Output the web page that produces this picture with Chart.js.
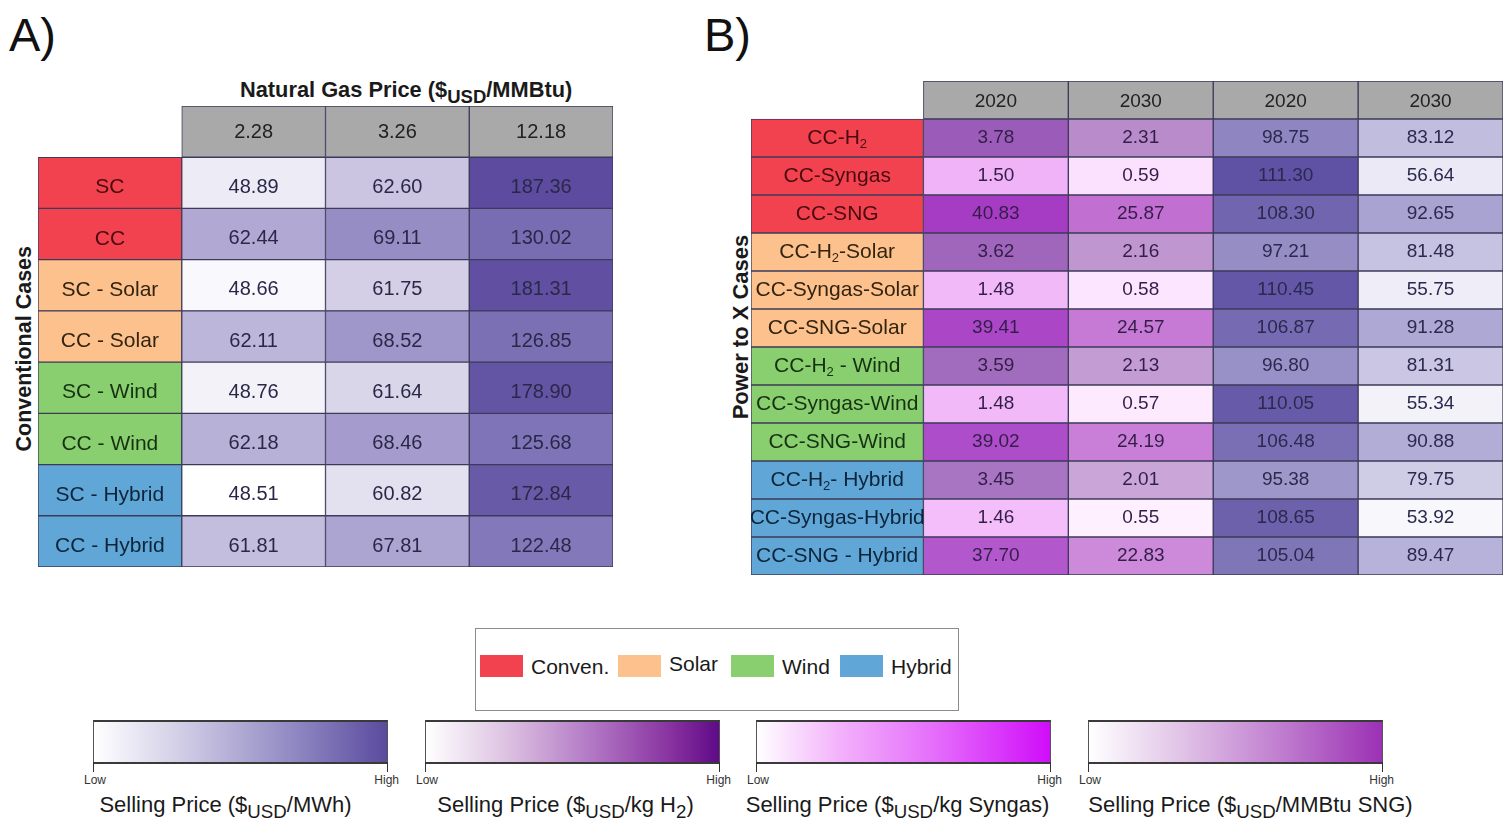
<!DOCTYPE html>
<html>
<head>
<meta charset="utf-8">
<script src="https://cdn.jsdelivr.net/npm/chart.js@4.4.1/dist/chart.umd.min.js"></script>
<style>
  html, body { margin: 0; padding: 0; background: #ffffff; }
  body { width: 1504px; height: 819px; position: relative; overflow: hidden;
         font-family: "Liberation Sans", Arial, sans-serif; color: #1a1a1a; }
  .abs { position: absolute; white-space: nowrap; }
  canvas { position: absolute; }
  .panel { font-size: 47px; line-height: 1; color: #111; }
  .sub { font-size: 0.85em; position: relative; top: 0.32em; }
  .vtitle { font-weight: bold; text-align: center; transform: rotate(-90deg); transform-origin: 50% 50%; line-height: 1; }
  .legend { border: 1px solid #8c8c8c; box-sizing: border-box; }
  .swatch { width: 43px; height: 22px; }
  .legtext { font-size: 21px; line-height: 1; }
  .cbar { box-sizing: border-box; border-top: 2px solid #3a3a3a; border-bottom: 2px solid #3a3a3a;
          border-left: 1px solid #555; border-right: 1px solid #555; }
  .tick { width: 1px; background: #333; }
  .lohi { font-size: 12px; color: #333; line-height: 1; }
  .cbtitle { font-size: 22px; line-height: 1; color: #1a1a1a; }
</style>
</head>
<body>

<div class="abs panel" style="left:9px; top:11px;">A)</div>
<div class="abs panel" style="left:704px; top:11px;">B)</div>

<div class="abs" style="left:240px; top:79px; font-size:21.8px; font-weight:bold; line-height:1;">Natural Gas Price ($<span class="sub">USD</span>/MMBtu)</div>

<div class="abs vtitle" style="left:-125px; top:338px; width:300px; font-size:21.5px;">Conventional Cases</div>
<div class="abs vtitle" style="left:591px; top:316px; width:300px; font-size:22px;">Power to X Cases</div>

<canvas id="tableA" width="575" height="461" style="left:38px; top:106px;"></canvas>
<canvas id="tableB" width="752" height="494" style="left:751px; top:81px;"></canvas>

<div id="legend" class="abs legend" style="left:475px; top:628px; width:484px; height:83px;"></div>
<div id="colorbars"></div>

<script>
// ---- Conventional power cases: levelized selling price ($/MWh) by natural gas price ----
const conventionalCases = ['SC', 'CC', 'SC - Solar', 'CC - Solar', 'SC - Wind', 'CC - Wind', 'SC - Hybrid', 'CC - Hybrid'];
const gasPrices = ['2.28', '3.26', '12.18'];
const priceGas228 = [48.89, 62.44, 48.66, 62.11, 48.76, 62.18, 48.51, 61.81];
const priceGas326 = [62.60, 69.11, 61.75, 68.52, 61.64, 68.46, 60.82, 67.81];
const priceGas1218 = [187.36, 130.02, 181.31, 126.85, 178.90, 125.68, 172.84, 122.48];

// ---- Power-to-X cases: fuel selling price and electricity selling price, 2020 / 2030 ----
const ptxCases = ['CC-H₂', 'CC-Syngas', 'CC-SNG', 'CC-H₂-Solar', 'CC-Syngas-Solar', 'CC-SNG-Solar',
                  'CC-H₂ - Wind', 'CC-Syngas-Wind', 'CC-SNG-Wind', 'CC-H₂- Hybrid', 'CC-Syngas-Hybrid', 'CC-SNG - Hybrid'];
const ptxYears = ['2020', '2030', '2020', '2030'];
const fuelPrice2020 = [3.78, 1.50, 40.83, 3.62, 1.48, 39.41, 3.59, 1.48, 39.02, 3.45, 1.46, 37.70];
const fuelPrice2030 = [2.31, 0.59, 25.87, 2.16, 0.58, 24.57, 2.13, 0.57, 24.19, 2.01, 0.55, 22.83];
const powerPrice2020 = [98.75, 111.30, 108.30, 97.21, 110.45, 106.87, 96.80, 110.05, 106.48, 95.38, 108.65, 105.04];
const powerPrice2030 = [83.12, 56.64, 92.65, 81.48, 55.75, 91.28, 81.31, 55.34, 90.88, 79.75, 53.92, 89.47];

// ---- Legend and colour-bar text ----
const groupNames = ['Conven.', 'Solar', 'Wind', 'Hybrid'];
const colorbarTitles = [
  'Selling Price ($<span class="sub">USD</span>/MWh)',
  'Selling Price ($<span class="sub">USD</span>/kg H<span class="sub">2</span>)',
  'Selling Price ($<span class="sub">USD</span>/kg Syngas)',
  'Selling Price ($<span class="sub">USD</span>/MMBtu SNG)'
];

// ---- Styles ----
const groupFill = { conv: '#f2424f', solar: '#fdc18e', wind: '#89cf70', hybrid: '#60a6d6' };
const groupInk  = { conv: '#4a0b10', solar: '#33240f', wind: '#163210', hybrid: '#0d253b' };
const headerFill = '#a9a9a9';
const gridInk = '#3d3b5a';
const FONT = '"Liberation Sans", Arial, sans-serif';

// colour ramps [low, high] used for each column
const rampA = [['#ffffff', '#b1a9d4'], ['#e3e0ef', '#978dc5'], ['#8378b9', '#5c4b9f']];
const rampFuel = {
  H2:     [['#a775c2', '#9a5cb8'], ['#c9a6d7', '#b98bcb']],
  Syngas: [['#f4befa', '#f0b3f7'], ['#fef0ff', '#fbe1fd']],
  SNG:    [['#b258cc', '#a63cc4'], ['#cd8ada', '#c26fd2']]
};
const rampPower = [['#9e97ca', '#5f52a4'], ['#f8f7fc', '#a9a3d2']];

const cbarGradients = [
  'linear-gradient(to right, #ffffff, #c9c4e1 35%, #9089c3 68%, #5b4b9e)',
  'linear-gradient(to right, #ffffff, #dcc1e1 28%, #b074c3 58%, #87319f 84%, #5f0a88)',
  'linear-gradient(to right, #ffffff, #f3b2fb 28%, #e46afb 62%, #d00df9)',
  'linear-gradient(to right, #ffffff, #e2c6e8 30%, #bd78cd 68%, #9c31b4)'
];
const cbarTitleShift = [-15, -7, -6, 15];

function groupOf(name) {
  if (name.includes('Solar')) return 'solar';
  if (name.includes('Wind')) return 'wind';
  if (name.includes('Hybrid')) return 'hybrid';
  return 'conv';
}
function productOf(name) {
  if (name.includes('H₂')) return 'H2';
  if (name.includes('Syngas')) return 'Syngas';
  return 'SNG';
}

function hexToRgb(h) { const n = parseInt(h.slice(1), 16); return [(n >> 16) & 255, (n >> 8) & 255, n & 255]; }
function mix(a, b, t) {
  const A = hexToRgb(a), B = hexToRgb(b);
  return 'rgb(' + A.map((v, i) => Math.round(v + (B[i] - v) * t)).join(',') + ')';
}
// shade of a value inside its column: half linear position, half rank
function shade(v, values, ramp) {
  const s = [...values].sort((a, b) => a - b);
  const lo = s[0], hi = s[s.length - 1];
  const lin = hi > lo ? (v - lo) / (hi - lo) : 0;
  const rank = s.length > 1 ? s.indexOf(v) / (s.length - 1) : 0;
  return mix(ramp[0], ramp[1], 0.5 * lin + 0.5 * rank);
}

// text with "₂" drawn as a lowered small 2
function drawRich(ctx, text, cx, cy, size, color, hScale) {
  const parts = [];
  for (const ch of text) {
    const sub = ch === '₂';
    const c = sub ? '2' : ch;
    if (parts.length && parts[parts.length - 1].sub === sub) parts[parts.length - 1].t += c;
    else parts.push({ t: c, sub });
  }
  const fontFor = p => (p.sub ? Math.round(size * 0.62) : size) + 'px ' + FONT;
  let total = 0;
  parts.forEach(p => { ctx.font = fontFor(p); p.w = ctx.measureText(p.t).width; total += p.w; });
  ctx.save();
  ctx.translate(cx, cy);
  ctx.scale(hScale, 1);
  ctx.fillStyle = color;
  ctx.textBaseline = 'alphabetic';
  ctx.textAlign = 'left';
  let x = -total / 2;
  const base = size * 0.36;
  parts.forEach(p => {
    ctx.font = fontFor(p);
    ctx.fillText(p.t, x, p.sub ? base + size * 0.2 : base);
    x += p.w;
  });
  ctx.restore();
}

const cellText = {
  id: 'cellText',
  afterDatasetsDraw(chart, args, opts) {
    const ctx = chart.ctx;
    chart.data.datasets.forEach((ds, di) => {
      const meta = chart.getDatasetMeta(di);
      meta.data.forEach((bar, i) => {
        const txt = ds.texts[i];
        if (txt == null) return;
        const p = bar.getProps(['x', 'y', 'base'], true);
        const dy = i === 0 ? opts.headerDy : opts.dy;
        drawRich(ctx, txt, (p.x + p.base) / 2, p.y + dy, ds.textSizes[i], ds.textColors[i], opts.hScale);
      });
    });
  }
};

function barDefaults(extra) {
  return Object.assign({
    grouped: false,
    barPercentage: 1,
    categoryPercentage: 1,
    borderWidth: 1,
    borderColor: gridInk,
    borderSkipped: false
  }, extra);
}

function tableOptions(xMax, dy, headerDy) {
  return {
    indexAxis: 'y',
    responsive: false,
    animation: false,
    layout: { padding: 0 },
    scales: {
      x: { type: 'linear', min: 0, max: xMax, display: false },
      y: { type: 'category', display: false, offset: true }
    },
    plugins: { legend: { display: false }, tooltip: { enabled: false }, cellText: { dy, headerDy, hScale: 1 } }
  };
}

// ---------- Table A ----------
(function () {
  const rows = conventionalCases;
  const cols = [priceGas228, priceGas326, priceGas1218];
  const datasets = [];
  datasets.push(barDefaults({
    data: [null, ...rows.map(() => [0, 1])],
    backgroundColor: ['transparent', ...rows.map(r => groupFill[groupOf(r)])],
    texts: [null, ...rows],
    textSizes: [0, ...rows.map(() => 21)],
    textColors: ['#000', ...rows.map(r => groupInk[groupOf(r)])]
  }));
  cols.forEach((vals, j) => {
    datasets.push(barDefaults({
      data: [[j + 1, j + 2], ...vals.map(() => [j + 1, j + 2])],
      backgroundColor: [headerFill, ...vals.map(v => shade(v, vals, rampA[j]))],
      texts: [gasPrices[j], ...vals.map(v => v.toFixed(2))],
      textSizes: [20, ...vals.map(() => 20)],
      textColors: ['#222222', ...vals.map(() => '#2a2848')]
    }));
  });
  new Chart(document.getElementById('tableA'), {
    type: 'bar',
    data: { labels: ['header', ...rows], datasets },
    options: tableOptions(4, 3, -1),
    plugins: [cellText]
  });
})();

// ---------- Table B ----------
(function () {
  const rows = ptxCases;
  const labelW = 1.19;
  const cols = [fuelPrice2020, fuelPrice2030, powerPrice2020, powerPrice2030];
  const datasets = [];
  datasets.push(barDefaults({
    data: [null, ...rows.map(() => [0, labelW])],
    backgroundColor: ['transparent', ...rows.map(r => groupFill[groupOf(r)])],
    texts: [null, ...rows],
    textSizes: [0, ...rows.map(() => 21)],
    textColors: ['#000', ...rows.map(r => groupInk[groupOf(r)])]
  }));
  cols.forEach((vals, j) => {
    const x0 = labelW + j, x1 = labelW + j + 1;
    const colours = vals.map((v, i) => {
      if (j < 2) {
        const prod = productOf(rows[i]);
        const same = vals.filter((_, k) => productOf(rows[k]) === prod);
        return shade(v, same, rampFuel[prod][j]);
      }
      return shade(v, vals, rampPower[j - 2]);
    });
    datasets.push(barDefaults({
      data: [[x0, x1], ...vals.map(() => [x0, x1])],
      backgroundColor: [headerFill, ...colours],
      texts: [ptxYears[j], ...vals.map(v => v.toFixed(2))],
      textSizes: [19, ...vals.map(() => 19)],
      textColors: ['#222222', ...vals.map(() => (j < 2 ? '#331e48' : '#2a294e'))]
    }));
  });
  new Chart(document.getElementById('tableB'), {
    type: 'bar',
    data: { labels: ['header', ...rows], datasets },
    options: tableOptions(labelW + 4, -2, 0),
    plugins: [cellText]
  });
})();

// ---------- Legend ----------
(function () {
  const box = document.getElementById('legend');
  const keys = ['conv', 'solar', 'wind', 'hybrid'];
  const swatchX = [4, 142, 255, 364];
  groupNames.forEach((name, i) => {
    const sw = document.createElement('div');
    sw.className = 'abs swatch';
    sw.style.left = swatchX[i] + 'px';
    sw.style.top = '26px';
    sw.style.background = groupFill[keys[i]];
    box.appendChild(sw);
    const t = document.createElement('div');
    t.className = 'abs legtext';
    t.style.left = (swatchX[i] + 51) + 'px';
    t.style.top = (i === 1 ? 24 : 27) + 'px';
    t.textContent = name;
    box.appendChild(t);
  });
})();

// ---------- Colour bars ----------
(function () {
  const host = document.getElementById('colorbars');
  const lefts = [93, 425, 756, 1088];
  const width = 295;
  colorbarTitles.forEach((title, i) => {
    const x = lefts[i];
    const bar = document.createElement('div');
    bar.className = 'abs cbar';
    Object.assign(bar.style, { left: x + 'px', top: '720px', width: width + 'px', height: '44px', background: cbarGradients[i] });
    host.appendChild(bar);
    [x, x + width - 1].forEach((tx, k) => {
      const tk = document.createElement('div');
      tk.className = 'abs tick';
      Object.assign(tk.style, { left: tx + 'px', top: '762px', height: '10px' });
      host.appendChild(tk);
      const lb = document.createElement('div');
      lb.className = 'abs lohi';
      lb.textContent = k === 0 ? 'Low' : 'High';
      lb.style.top = '774px';
      lb.style.width = '80px';
      if (k === 0) { lb.style.left = (tx - 9) + 'px'; lb.style.textAlign = 'left'; }
      else { lb.style.left = (tx - 68) + 'px'; lb.style.textAlign = 'right'; }
      host.appendChild(lb);
    });
    const tt = document.createElement('div');
    tt.className = 'abs cbtitle';
    tt.innerHTML = title;
    Object.assign(tt.style, { left: (x - 60 + cbarTitleShift[i]) + 'px', top: '794px', width: (width + 120) + 'px', textAlign: 'center' });
    host.appendChild(tt);
  });
})();
</script>
</body>
</html>
